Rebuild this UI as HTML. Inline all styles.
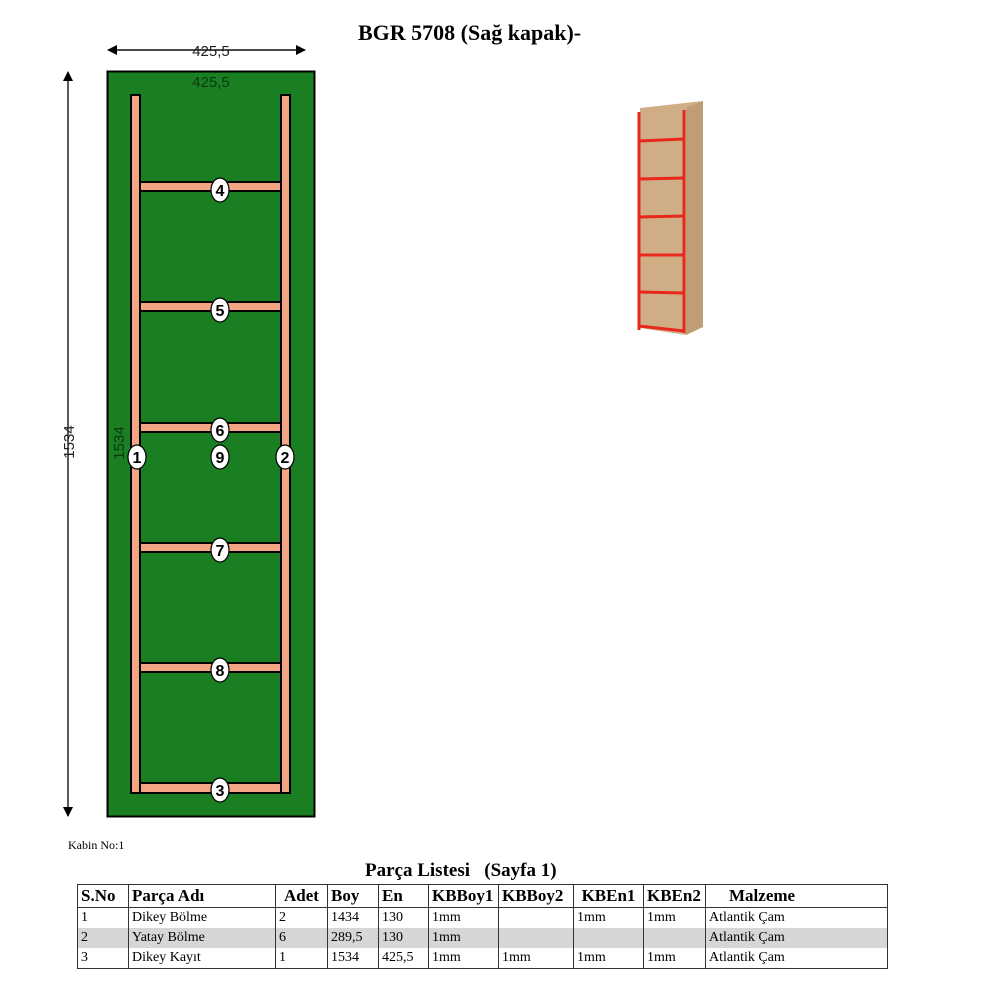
<!DOCTYPE html>
<html><head><meta charset="utf-8"><style>
body{margin:0;width:1000px;height:1000px;background:#fff;position:relative;overflow:hidden;font-family:"Liberation Serif",serif}
.t{position:absolute;white-space:nowrap}
table{position:absolute;left:77px;top:884px;border-collapse:collapse;font-family:"Liberation Serif",serif;font-size:14px}
td{border-left:1px solid #333;border-right:1px solid #333;padding:0 3px;height:20px;line-height:20px;overflow:hidden;white-space:nowrap}
tr.h td{font-weight:bold;font-size:17px;height:22px;border-bottom:1px solid #333}
tr.g td{background:#d6d6d6}
</style></head><body>
<div class="t" style="left:358px;top:20px;font-size:22px;font-weight:bold">BGR 5708 (Sağ kapak)-</div>
<svg width="1000" height="860" style="position:absolute;left:0;top:0">
<defs><marker id="a" markerWidth="10" markerHeight="10" refX="9" refY="5" orient="auto" markerUnits="userSpaceOnUse"><path d="M0,0 L10,5 L0,10z" fill="#000"/></marker></defs>
<line x1="118" y1="50" x2="305" y2="50" stroke="#000" stroke-width="1.3" marker-end="url(#a)"/>
<line x1="300" y1="50" x2="108" y2="50" stroke="#000" stroke-width="1.3" marker-end="url(#a)"/>
<line x1="68" y1="80" x2="68" y2="72" stroke="#000" marker-end="url(#a)"/>
<line x1="68" y1="78" x2="68" y2="816" stroke="#000" stroke-width="1.3" marker-end="url(#a)"/>
<text x="211" y="56" font-family="Liberation Sans" font-size="15" text-anchor="middle" fill="#222">425,5</text>
<text transform="translate(74,442) rotate(-90)" font-family="Liberation Sans" font-size="15" text-anchor="middle" fill="#222">1534</text>
<rect x="107.5" y="71.5" width="207" height="745" fill="#1a7e22" stroke="#000" stroke-width="2"/>
<text x="211" y="87" font-family="Liberation Sans" font-size="15" text-anchor="middle" fill="#0b3a0e">425,5</text>
<text transform="translate(124,443) rotate(-90)" font-family="Liberation Sans" font-size="15" text-anchor="middle" fill="#0b3a0e">1534</text>
<g fill="#f4a583" stroke="#000" stroke-width="2">
<rect x="131" y="95" width="9" height="698"/>
<rect x="281" y="95" width="9" height="698"/>
<rect x="140" y="783" width="141" height="10"/>
<rect x="140" y="182" width="141" height="9"/>
<rect x="140" y="302" width="141" height="9"/>
<rect x="140" y="423" width="141" height="9"/>
<rect x="140" y="543" width="141" height="9"/>
<rect x="140" y="663" width="141" height="9"/>
</g>
<g font-family="Liberation Sans" font-size="16" font-weight="bold" text-anchor="middle">
<g fill="#fff" stroke="#000" stroke-width="1.2">
<ellipse cx="220" cy="190" rx="9" ry="12"/><ellipse cx="220" cy="310" rx="9" ry="12"/>
<ellipse cx="220" cy="430" rx="9" ry="12"/><ellipse cx="220" cy="457" rx="9" ry="12"/>
<ellipse cx="137" cy="457" rx="9" ry="12"/><ellipse cx="285" cy="457" rx="9" ry="12"/>
<ellipse cx="220" cy="550" rx="9" ry="12"/><ellipse cx="220" cy="670" rx="9" ry="12"/>
<ellipse cx="220" cy="790" rx="9" ry="12"/></g>
<text x="220" y="196">4</text><text x="220" y="316">5</text><text x="220" y="436">6</text>
<text x="220" y="463">9</text><text x="137" y="463">1</text><text x="285" y="463">2</text>
<text x="220" y="556">7</text><text x="220" y="676">8</text><text x="220" y="796">3</text>
</g>
<polygon points="640,108 703,101 703,327 686,335 640,328" fill="#cfae86"/>
<polygon points="686,108 703,101 703,327 686,335" fill="#c09d74"/>
<g stroke="#e8281c" stroke-width="3" fill="none">
<line x1="639" y1="112" x2="639" y2="330"/><line x1="684" y1="110" x2="684" y2="333"/>
<line x1="639" y1="141" x2="684" y2="139"/><line x1="639" y1="179" x2="684" y2="178"/>
<line x1="639" y1="217" x2="684" y2="216"/><line x1="639" y1="255" x2="684" y2="255"/>
<line x1="639" y1="292" x2="684" y2="293"/><line x1="639" y1="326" x2="684" y2="331"/>
</g>
</svg>
<div class="t" style="left:68px;top:838px;font-size:12px">Kabin No:1</div>
<div class="t" style="left:365px;top:860px;font-size:19px;font-weight:bold">Parça Listesi &nbsp;&nbsp;(Sayfa 1)</div>
<table style="border:1.5px solid #333;table-layout:fixed;width:810px">
<colgroup><col style="width:51px"><col style="width:147px"><col style="width:52px"><col style="width:51px"><col style="width:50px"><col style="width:70px"><col style="width:75px"><col style="width:70px"><col style="width:62px"><col style="width:182px"></colgroup>
<tr class="h"><td>S.No</td><td>Parça Adı</td><td style="text-align:center">Adet</td><td>Boy</td><td>En</td><td>KBBoy1</td><td>KBBoy2</td><td style="text-align:center">KBEn1</td><td>KBEn2</td><td style="padding-left:23px">Malzeme</td></tr>
<tr><td>1</td><td>Dikey Bölme</td><td>2</td><td>1434</td><td>130</td><td>1mm</td><td></td><td>1mm</td><td>1mm</td><td>Atlantik Çam</td></tr>
<tr class="g"><td>2</td><td>Yatay Bölme</td><td>6</td><td>289,5</td><td>130</td><td>1mm</td><td></td><td></td><td></td><td>Atlantik Çam</td></tr>
<tr><td>3</td><td>Dikey Kayıt</td><td>1</td><td>1534</td><td>425,5</td><td>1mm</td><td>1mm</td><td>1mm</td><td>1mm</td><td>Atlantik Çam</td></tr>
</table>
</body></html>
